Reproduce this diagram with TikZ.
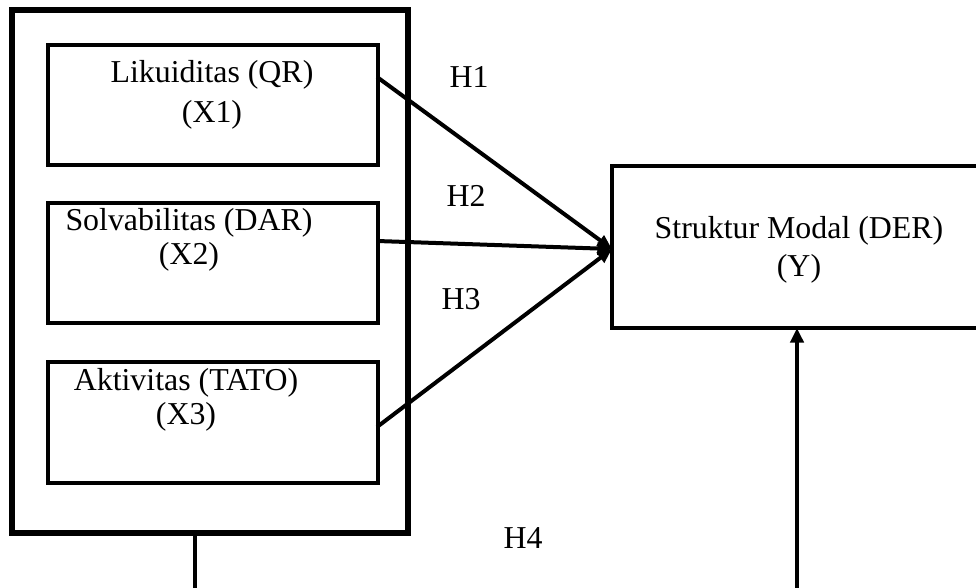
\documentclass[tikz,border=0pt]{standalone}
\usepackage{fontspec}
\setmainfont{Liberation Serif}
\usetikzlibrary{arrows.meta}
\begin{document}
\begin{tikzpicture}[x=0.75pt,y=-0.75pt,
  outerbox/.style={draw=black,line width=4.5pt,fill=none},
  inbox/.style={draw=black,line width=3pt,minimum width=247.5pt,minimum height=90pt,inner sep=0pt},
  ybox/.style={draw=black,line width=3pt,minimum width=280.5pt,minimum height=121.5pt,inner sep=0pt},
  lbl/.style={align=center,inner sep=0pt,font=\fontsize{23.9}{25.5}\selectfont},
  hlbl/.style={inner sep=0pt,font=\fontsize{23.9}{28}\selectfont},
  conn/.style={line width=3pt,-{Triangle[length=11pt,width=9pt]}},
  plain/.style={line width=2.6pt}]
\useasboundingbox (0,0) rectangle (976,588);
\fill[white] (0,0) rectangle (976,588);
% outer frame
\node[outerbox,minimum width=297pt,minimum height=392.25pt,inner sep=0pt] (frame) at (210,271.5) {};
% inner boxes
\node[inbox] (x1) at (212.5,105) {};
\node[inbox] (x2) at (212.5,263.5) {};
\node[inbox] (x3) at (212.5,422.5) {};
\node[lbl,font=\fontsize{23.9}{30}\selectfont] (t1) at (212,95) {Likuiditas (QR)\\(X1)};
\node[lbl] (t2) at (189,240) {Solvabilitas (DAR)\\(X2)};
\node[lbl] (t3) at (186,400) {Aktivitas (TATO)\\(X3)};
% dependent
\node[ybox] (y) at (799,247) {};
\node[lbl,font=\fontsize{23.9}{28.5}\selectfont] (ty) at (799,250) {Struktur Modal (DER)\\(Y)};
\coordinate (yin) at (612,249);
\coordinate (a1) at (377,77);
\coordinate (a2) at (377,241);
\coordinate (a3) at (377,427);
\draw[conn] (a1) -- (yin);
\draw[conn] (a2) -- (yin);
\draw[conn] (a3) -- (yin);
% labels
\node[hlbl] (h1) at (469,77) {H1};
\node[hlbl] (h2) at (466,196) {H2};
\node[hlbl] (h3) at (461,299) {H3};
\node[hlbl] (h4) at (523,538) {H4};
% bottom connectors
\coordinate (b1) at (195,600);
\coordinate (b2) at (797,600);
\draw[plain] (195,533) -- (b1);
\draw[plain,-{Triangle[length=11pt,width=10pt]}] (b2) -- (797,328);
\end{tikzpicture}
\end{document}
